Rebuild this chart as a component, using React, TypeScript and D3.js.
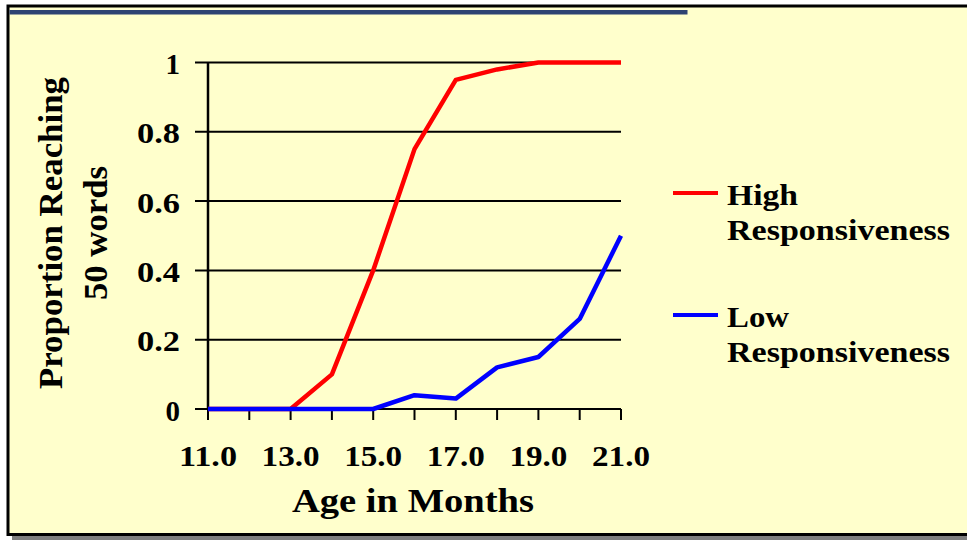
import * as d3 from "d3";
import React from "react";

// months on the x axis
const months = [11, 12, 13, 14, 15, 16, 17, 18, 19, 20, 21];
// proportion of children reaching 50 words
const highResp = [0, 0, 0, 0.1, 0.4, 0.75, 0.95, 0.98, 1, 1, 1];
const lowResp = [0, 0, 0, 0, 0, 0.04, 0.03, 0.12, 0.15, 0.26, 0.5];
const yTicks = [0, 0.2, 0.4, 0.6, 0.8, 1];
const xLabelTicks = [11, 13, 15, 17, 19, 21];
const seriesNames = ["High", "Low"];
const seriesColors = ["#ff0000", "#0000ff"];

const W = 967;
const H = 540;
const FONT = "'Liberation Serif', 'Times New Roman', serif";

const App = () => {
  const x = d3.scaleLinear().domain([11, 21]).range([208, 621]);
  const y = d3.scaleLinear().domain([0, 1]).range([409, 62.5]);

  const line = d3
    .line<number>()
    .x((_, i) => x(months[i]))
    .y((d) => y(d));

  const series = [highResp, lowResp];

  return (
    <svg
      width={W}
      height={H}
      style={{ position: "absolute", left: 0, top: 0 }}
      fontFamily={FONT}
      fontWeight="bold"
    >
      <rect x={0} y={0} width={W} height={H} fill="#ffffff" />
      <rect x={12} y={536} width={W} height={6} fill="#7f7f7f" />
      <rect x={8} y={6} width={W + 20} height={528.5} fill="#ffffcc" stroke="#000" strokeWidth={3} />
      <rect x={9.5} y={10} width={678} height={4.5} fill="#2e4372" />

      {/* gridlines */}
      {yTicks.map((t) => (
        <line key={t} x1={195} x2={621} y1={y(t)} y2={y(t)} stroke="#000" strokeWidth={2} />
      ))}
      <line x1={208} x2={208} y1={y(1)} y2={y(0)} stroke="#000" strokeWidth={2.5} />
      {months.map((m) => (
        <line key={m} x1={x(m)} x2={x(m)} y1={y(0)} y2={y(0) + 11} stroke="#000" strokeWidth={2} />
      ))}

      {/* y tick labels */}
      {yTicks.map((t) => (
        <text
          key={t}
          x={180}
          y={y(t) + 11.5}
          textAnchor="end"
          fontSize={29}
          textLength={t === 0 || t === 1 ? undefined : 43}
          lengthAdjust="spacingAndGlyphs"
        >
          {t === 0 || t === 1 ? String(t) : t.toFixed(1)}
        </text>
      ))}

      {/* x tick labels */}
      {xLabelTicks.map((m) => (
        <text
          key={m}
          x={x(m)}
          y={466}
          textAnchor="middle"
          fontSize={29}
          textLength={58}
          lengthAdjust="spacingAndGlyphs"
        >
          {m.toFixed(1)}
        </text>
      ))}

      <text x={413} y={512} textAnchor="middle" fontSize={34} textLength={242} lengthAdjust="spacingAndGlyphs">
        Age in Months
      </text>

      <g transform="translate(0,233) rotate(-90)">
        <text x={0} y={62} textAnchor="middle" fontSize={33} textLength={312} lengthAdjust="spacingAndGlyphs">
          Proportion Reaching
        </text>
        <text x={0} y={107} textAnchor="middle" fontSize={33} textLength={134} lengthAdjust="spacingAndGlyphs">
          50 words
        </text>
      </g>

      {/* series */}
      {series.map((s, i) => (
        <path
          key={i}
          d={line(s) || undefined}
          fill="none"
          stroke={seriesColors[i]}
          strokeWidth={4.5}
          strokeLinejoin="round"
        />
      ))}

      {/* legend */}
      {seriesNames.map((name, i) => {
        const ly = 193 + i * 122;
        return (
          <g key={name}>
            <line x1={673} x2={718} y1={ly} y2={ly} stroke={seriesColors[i]} strokeWidth={4} />
            <text x={727} y={ly + 12} fontSize={30} textLength={name === "High" ? 71 : 62} lengthAdjust="spacingAndGlyphs">
              {name}
            </text>
            <text x={727} y={ly + 47} fontSize={30} textLength={223} lengthAdjust="spacingAndGlyphs">
              Responsiveness
            </text>
          </g>
        );
      })}
    </svg>
  );
};

export default App;
